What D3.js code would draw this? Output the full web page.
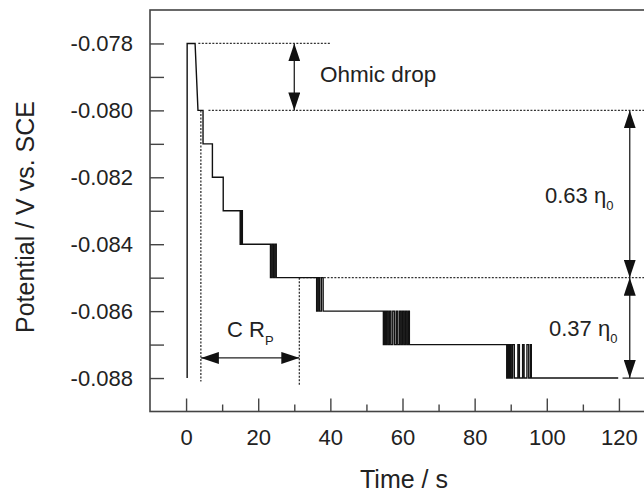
<!DOCTYPE html>
<html>
<head>
<meta charset="utf-8">
<script src="https://cdn.jsdelivr.net/npm/d3@7"></script>
<style>
  body { margin: 0; background: #fff; }
  text { font-family: "Liberation Sans", Arial, sans-serif; fill: #222; }
</style>
</head>
<body>
<svg id="chart" width="644" height="493"></svg>
<script>
// Axis ticks
var xMajorTicks = [0, 20, 40, 60, 80, 100, 120];
var xMinorTicks = [10, 30, 50, 70, 90, 110, 130];
var yMajorTicks = [-0.078, -0.080, -0.082, -0.084, -0.086, -0.088];
var yMinorTicks = [-0.079, -0.081, -0.083, -0.085, -0.087];

// Potential trace (time in s, potential in V), vertices of the recorded step curve
var traceTime = [
    0.3, 0.3, 2.5, 3.3, 4.7, 4.7, 7.3, 7.3, 10.3, 10.3,
    15.0, 15.0, 15.3, 15.3, 15.6, 15.6,
    23.4, 23.4, 23.8, 23.8, 24.2, 24.2, 24.6, 24.6, 25.0, 25.0,
    36.2, 36.2, 36.6, 36.6, 37.0, 37.0, 37.5, 37.5, 38.0, 38.0,
    54.7, 54.7, 55.0, 55.0, 55.3, 55.3, 55.6, 55.6, 56.0, 56.0, 56.4, 56.4,
    56.8, 56.8, 57.3, 57.3, 57.8, 57.8, 58.3, 58.3, 58.7, 58.7, 59.2, 59.2,
    59.6, 59.6, 60.0, 60.0, 60.4, 60.4, 60.8, 60.8, 61.2, 61.2, 61.6, 61.6, 61.9, 61.9,
    88.9, 88.9, 89.2, 89.2, 89.5, 89.5, 89.8, 89.8, 90.1, 90.1, 90.5, 90.5,
    91.0, 91.0, 92.0, 92.0, 92.4, 92.4, 93.3, 93.3, 93.7, 93.7, 94.5, 94.5,
    95.0, 95.0, 95.5, 95.5, 95.7, 95.7, 119.8
];
var tracePotential = [
    -0.0880, -0.0780, -0.0780, -0.0800, -0.0800, -0.0810, -0.0810, -0.0820, -0.0820, -0.0830,
    -0.0830, -0.0840, -0.0840, -0.0830, -0.0830, -0.0840,
    -0.0840, -0.0850, -0.0850, -0.0840, -0.0840, -0.0850, -0.0850, -0.0840, -0.0840, -0.0850,
    -0.0850, -0.0860, -0.0860, -0.0850, -0.0850, -0.0860, -0.0860, -0.0850, -0.0850, -0.0860,
    -0.0860, -0.0870, -0.0870, -0.0860, -0.0860, -0.0870, -0.0870, -0.0860, -0.0860, -0.0870, -0.0870, -0.0860,
    -0.0860, -0.0870, -0.0870, -0.0860, -0.0860, -0.0870, -0.0870, -0.0860, -0.0860, -0.0870, -0.0870, -0.0860,
    -0.0860, -0.0870, -0.0870, -0.0860, -0.0860, -0.0870, -0.0870, -0.0860, -0.0860, -0.0870, -0.0870, -0.0860, -0.0860, -0.0870,
    -0.0870, -0.0880, -0.0880, -0.0870, -0.0870, -0.0880, -0.0880, -0.0870, -0.0870, -0.0880, -0.0880, -0.0870,
    -0.0870, -0.0880, -0.0880, -0.0870, -0.0870, -0.0880, -0.0880, -0.0870, -0.0870, -0.0880, -0.0880, -0.0870,
    -0.0870, -0.0880, -0.0880, -0.0870, -0.0870, -0.0880, -0.0880
];

// Annotation lines (dotted guides), in data units: [t1, v1, t2, v2]
var guideLines = [
    [3.4, -0.0780, 40, -0.0780],
    [6.2, -0.0800, 140, -0.0800],
    [31.4, -0.0850, 140, -0.0850],
    [4.1, -0.0800, 4.1, -0.0881],
    [31.4, -0.0850, 31.4, -0.0882]
];

// Double headed arrows, in data units: [t1, v1, t2, v2]
var arrowLines = [
    [30, -0.0780, 30, -0.0800],
    [4.1, -0.0874, 31.4, -0.0874],
    [123, -0.0800, 123, -0.0850],
    [123, -0.0850, 123, -0.0880]
];

var svg = d3.select("#chart");

// Plot frame (right edge falls outside the picture, like the original)
var plotLeft = 150, plotTop = 10, plotBottom = 411.5, plotRight = 655;

var x = d3.scaleLinear().domain([-10, 130]).range([plotLeft, plotRight]);
var y = d3.scaleLinear().domain([-0.089, -0.077]).range([plotBottom, plotTop]);

// Arrow heads
var defs = svg.append("defs");
defs.append("marker")
    .attr("id", "head")
    .attr("viewBox", "0 0 18 12")
    .attr("refX", 18)
    .attr("refY", 6)
    .attr("markerWidth", 18)
    .attr("markerHeight", 12)
    .attr("markerUnits", "userSpaceOnUse")
    .attr("orient", "auto-start-reverse")
    .append("path")
    .attr("d", "M0,0 L18,6 L0,12 Z")
    .attr("fill", "#111");

// Frame
svg.append("rect")
    .attr("x", plotLeft)
    .attr("y", plotTop)
    .attr("width", plotRight - plotLeft)
    .attr("height", plotBottom - plotTop)
    .attr("fill", "none")
    .attr("stroke", "#444")
    .attr("stroke-width", 1.6);

// X axis: major ticks with labels, minor ticks shorter
svg.append("g")
    .attr("transform", "translate(0," + plotBottom + ")")
    .call(d3.axisBottom(x).tickValues(xMajorTicks).tickSize(-13).tickPadding(18).tickFormat(d3.format("d")));
svg.append("g")
    .attr("transform", "translate(0," + plotBottom + ")")
    .call(d3.axisBottom(x).tickValues(xMinorTicks).tickSize(-7).tickFormat(""));

// Y axis (plain hyphen for the minus sign, like the original)
svg.append("g")
    .attr("transform", "translate(" + plotLeft + ",0)")
    .call(d3.axisLeft(y).tickValues(yMajorTicks).tickSize(-14).tickPadding(17)
        .tickFormat(function(d) { return d.toFixed(3); }));
svg.append("g")
    .attr("transform", "translate(" + plotLeft + ",0)")
    .call(d3.axisLeft(y).tickValues(yMinorTicks).tickSize(-14).tickFormat(""));

svg.selectAll(".domain").remove();
svg.selectAll(".tick line").attr("stroke", "#444").attr("stroke-width", 1.4);
svg.selectAll(".tick text")
    .attr("font-size", 22)
    .attr("font-family", "Liberation Sans, Arial, sans-serif")
    .attr("fill", "#222");

// Axis titles
svg.append("text")
    .attr("x", 404)
    .attr("y", 488)
    .attr("text-anchor", "middle")
    .attr("font-size", 25)
    .text("Time / s");

svg.append("text")
    .attr("transform", "translate(34,217) rotate(-90)")
    .attr("text-anchor", "middle")
    .attr("font-size", 25)
    .text("Potential / V vs. SCE");

// Dotted guide lines
svg.selectAll(".guide")
    .data(guideLines)
    .enter()
    .append("line")
    .attr("class", "guide")
    .attr("x1", function(d) { return x(d[0]); })
    .attr("y1", function(d) { return y(d[1]); })
    .attr("x2", function(d) { return x(d[2]); })
    .attr("y2", function(d) { return y(d[3]); })
    .attr("stroke", "#333")
    .attr("stroke-width", 1.3)
    .attr("stroke-dasharray", "2,1.5");

// Potential trace
var traceData = traceTime.map(function(t, i) { return [t, tracePotential[i]]; });
svg.append("path")
    .datum(traceData)
    .attr("d", d3.line()
        .x(function(d) { return x(d[0]); })
        .y(function(d) { return y(d[1]); }))
    .attr("fill", "none")
    .attr("stroke", "#111")
    .attr("stroke-width", 1.4);

// short end bar at the foot of the right arrow
svg.append("line")
    .attr("x1", x(121))
    .attr("y1", y(-0.088))
    .attr("x2", x(135))
    .attr("y2", y(-0.088))
    .attr("stroke", "#222")
    .attr("stroke-width", 1.3);

// Arrows
svg.selectAll(".arrow")
    .data(arrowLines)
    .enter()
    .append("line")
    .attr("class", "arrow")
    .attr("x1", function(d) { return x(d[0]); })
    .attr("y1", function(d) { return y(d[1]); })
    .attr("x2", function(d) { return x(d[2]); })
    .attr("y2", function(d) { return y(d[3]); })
    .attr("stroke", "#222")
    .attr("stroke-width", 1.3)
    .attr("marker-start", "url(#head)")
    .attr("marker-end", "url(#head)");

// Annotation labels
svg.append("text")
    .attr("x", 320)
    .attr("y", 82)
    .attr("font-size", 22.5)
    .text("Ohmic drop");

function etaLabel(xPos, yPos, value) {
    var t = svg.append("text")
        .attr("x", xPos)
        .attr("y", yPos)
        .attr("font-size", 22);
    t.append("tspan").text(value + " \u03B7");
    t.append("tspan").attr("font-size", 13).attr("dy", 7).text("0");
}
etaLabel(545, 203, "0.63");
etaLabel(549, 336, "0.37");

var crp = svg.append("text")
    .attr("x", 227)
    .attr("y", 337)
    .attr("font-size", 22);
crp.append("tspan").text("C R");
crp.append("tspan").attr("font-size", 13).attr("dy", 8).text("P");
</script>
</body>
</html>
